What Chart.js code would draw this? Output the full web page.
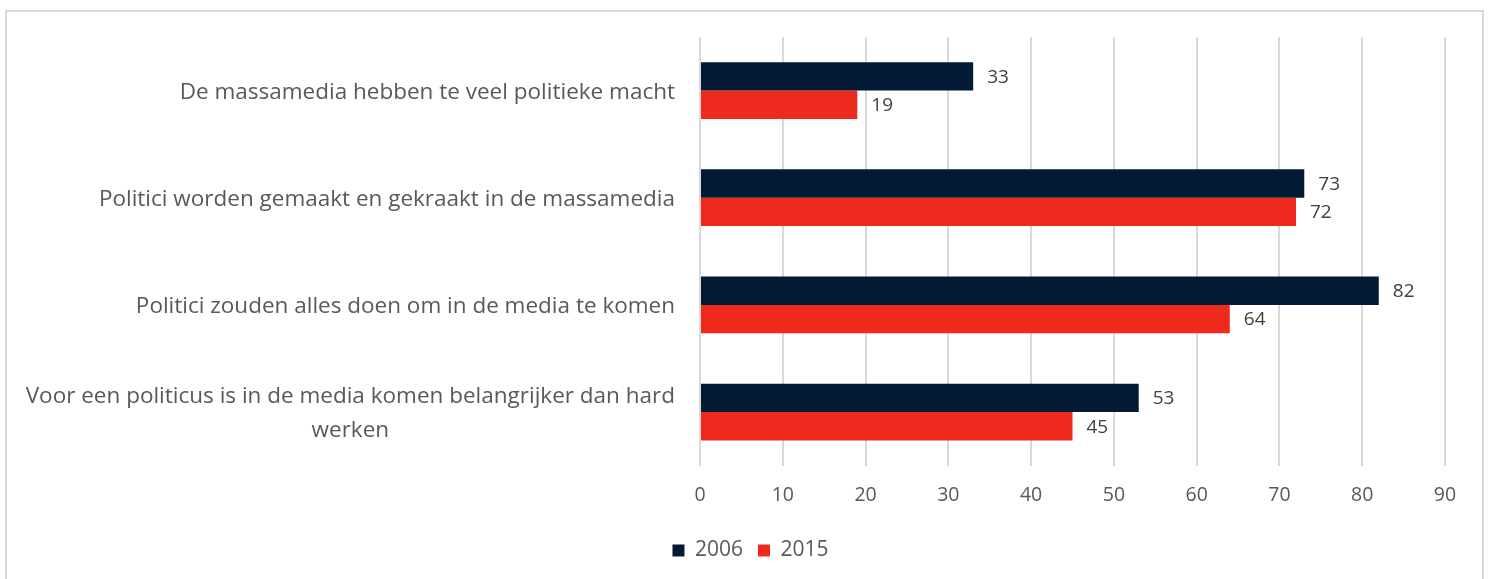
<!DOCTYPE html>
<html>
<head>
<meta charset="utf-8">
<script src="https://cdn.jsdelivr.net/npm/chart.js@4"></script>
<style>
    body { margin: 0; background: #fff; overflow: hidden; }
    #wrap { position: relative; width: 1489px; height: 579px; }
    #frame {
        position: absolute; left: 5px; top: 10px; width: 1475px; height: 600px;
        border: 2px solid #d9d9d9; pointer-events: none;
    }
</style>
</head>
<body>
<div id="wrap">
    <canvas id="mediaChart" width="1489" height="579"></canvas>
    <div id="frame"></div>
</div>
<script>
const categories = [
    ['De massamedia hebben te veel politieke macht'],
    ['Politici worden gemaakt en gekraakt in de massamedia'],
    ['Politici zouden alles doen om in de media te komen'],
    ['Voor een politicus is in de media komen belangrijker dan hard', 'werken']
];
const values2006 = [33, 73, 82, 53];
const values2015 = [19, 72, 64, 45];
const xTicks = [0, 10, 20, 30, 40, 50, 60, 70, 80, 90];

const fontFamily = '"Open Sans", "Noto Sans", sans-serif';

// category labels: right edge next to the axis, lines centred on each other
const categoryLabels = {
    id: 'categoryLabels',
    afterDraw(chart) {
        const ctx = chart.ctx;
        const yScale = chart.scales.y;
        const right = chart.chartArea.left - 25;
        const lineHeight = 34;
        ctx.save();
        ctx.font = '22.5px ' + fontFamily;
        ctx.fillStyle = '#595959';
        ctx.textBaseline = 'middle';
        ctx.textAlign = 'center';
        categories.forEach((lines, i) => {
            const yc = yScale.getPixelForTick(i);
            const widest = Math.max(...lines.map(l => ctx.measureText(l).width));
            const cx = right - widest / 2;
            const top = yc - (lines.length - 1) * lineHeight / 2 + 2;
            lines.forEach((line, j) => ctx.fillText(line, cx, top + j * lineHeight));
        });
        ctx.restore();
    }
};

// value labels at the end of each bar
const valueLabels = {
    id: 'valueLabels',
    afterDatasetsDraw(chart) {
        const ctx = chart.ctx;
        ctx.save();
        ctx.font = '19px ' + fontFamily;
        ctx.fillStyle = '#404040';
        ctx.textBaseline = 'middle';
        ctx.textAlign = 'left';
        chart.data.datasets.forEach((ds, i) => {
            chart.getDatasetMeta(i).data.forEach((bar, j) => {
                ctx.fillText(ds.data[j], bar.x + 14, bar.y + 1);
            });
        });
        ctx.restore();
    }
};

const ctx = document.getElementById('mediaChart').getContext('2d');
new Chart(ctx, {
    type: 'bar',
    data: {
        labels: categories,
        datasets: [{
            label: '2006',
            data: values2006,
            backgroundColor: '#021a34',
            borderWidth: 0
        }, {
            label: '2015',
            data: values2015,
            backgroundColor: '#ee2a1e',
            borderWidth: 0
        }]
    },
    options: {
        indexAxis: 'y',
        responsive: false,
        animation: false,
        layout: { padding: { left: 56, right: 44, top: 37, bottom: 8 } },
        datasets: { bar: { barPercentage: 1, categoryPercentage: 0.53 } },
        scales: {
            x: {
                min: 0,
                max: 90,
                afterBuildTicks(scale) { scale.ticks = xTicks.map(v => ({ value: v })); },
                grid: { color: '#d9d9d9', lineWidth: 2, drawTicks: false },
                border: { display: false },
                ticks: { color: '#595959', font: { family: fontFamily, size: 19.5 }, padding: 18 }
            },
            y: {
                grid: { display: false },
                border: { display: false },
                ticks: { display: false },
                afterFit(scale) { scale.width = 644; }
            }
        },
        plugins: {
            legend: {
                position: 'bottom',
                labels: {
                    color: '#595959',
                    font: { family: fontFamily, size: 21 },
                    boxWidth: 12,
                    boxHeight: 12,
                    padding: 15
                }
            },
            tooltip: { enabled: false }
        }
    },
    plugins: [categoryLabels, valueLabels]
});
</script>
</body>
</html>
